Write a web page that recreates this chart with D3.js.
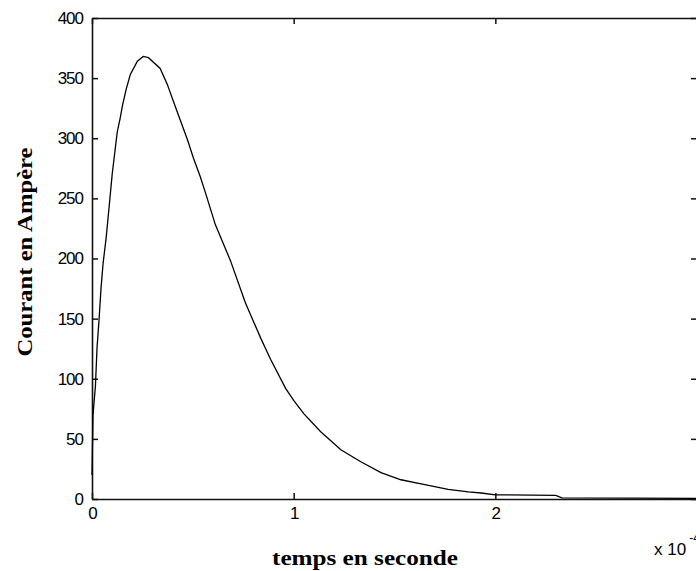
<!DOCTYPE html>
<html>
<head>
<meta charset="utf-8">
<script src="https://cdn.jsdelivr.net/npm/d3@7"></script>
<style>
  body { margin: 0; background: #fff; }
  svg { display: block; }
</style>
</head>
<body>
<svg id="chart"></svg>
<script>
// temps (x 10^-4 s) et courant (A)
const temps = [0, 0.005, 0.017, 0.025, 0.035, 0.045, 0.055, 0.07, 0.085, 0.1, 0.11, 0.125, 0.14, 0.152, 0.17, 0.19, 0.225, 0.254, 0.28, 0.338, 0.373, 0.403, 0.438, 0.473, 0.502, 0.537, 0.562, 0.612, 0.687, 0.761, 0.836, 0.886, 0.96, 1.0, 1.05, 1.134, 1.234, 1.333, 1.433, 1.532, 1.632, 1.766, 1.866, 1.93, 2.0, 2.3, 2.33, 3.0]
const courant = [20, 70, 94, 126, 149, 176, 196, 217, 243, 270, 284, 305, 317, 328, 341, 353, 364, 368, 367, 358, 345, 331, 315, 299, 284, 268, 255, 228, 198, 163, 134, 116, 92, 82, 71, 56, 41, 31, 22, 16, 12.5, 8, 6, 5, 3.5, 3, 1, 0.5]

const xTicks = [0, 1, 2, 3]
const yTicks = [0, 50, 100, 150, 200, 250, 300, 350, 400]

const width = 696, height = 571
const mLeft = 92, mRight = 697, mTop = 18, mBottom = 499

const svg = d3.select('#chart')
  .attr('width', width)
  .attr('height', height)

//scales
const xScale = d3.scaleLinear()
  .domain([0, 3])
  .range([mLeft, mRight])

const yScale = d3.scaleLinear()
  .domain([0, 400])
  .range([mBottom, mTop])

const tickFont = g => g
  .attr('font-family', '"Liberation Sans", Arial, sans-serif')
  .attr('font-size', 17)
  .attr('letter-spacing', '-1px')

const styleAxis = g => {
  g.selectAll('.domain').attr('stroke', '#111').attr('stroke-width', 1.6)
  g.selectAll('.tick line').attr('stroke', '#111').attr('stroke-width', 1.5)
  g.selectAll('.tick text').attr('fill', '#000')
}

// axes with inward ticks, box like matlab
svg.append('g')
  .attr('transform', `translate(0, ${mBottom})`)
  .call(d3.axisBottom(xScale).tickValues(xTicks).tickSize(-6).tickSizeOuter(0).tickPadding(8).tickFormat(d3.format('d')))
  .call(tickFont)
  .call(styleAxis)
  // last label sits on the edge, as in the figure
  .call(g => g.selectAll('.tick text').filter(d => d === 3).attr('dx', 3))

svg.append('g')
  .attr('transform', `translate(${mLeft}, 0)`)
  .call(d3.axisLeft(yScale).tickValues(yTicks).tickSize(-6).tickSizeOuter(0).tickPadding(9).tickFormat(d3.format('d')))
  .call(tickFont)
  .call(styleAxis)

svg.append('g')
  .attr('transform', `translate(0, ${mTop})`)
  .call(d3.axisTop(xScale).tickValues(xTicks).tickSize(-6).tickSizeOuter(0).tickFormat(''))
  .call(styleAxis)

svg.append('g')
  .attr('transform', `translate(${mRight}, 0)`)
  .call(d3.axisRight(yScale).tickValues(yTicks).tickSize(-6).tickSizeOuter(0).tickFormat(''))
  .call(styleAxis)

// courbe du courant
const line = d3.line()
  .x((d, i) => xScale(temps[i]))
  .y(d => yScale(d))

svg.append('path')
  .datum(courant)
  .attr('d', line)
  .attr('fill', 'none')
  .attr('stroke', '#000')
  .attr('stroke-width', 1.3)

// exponent label
const expo = svg.append('text')
  .attr('x', 654)
  .attr('y', 555)
  .attr('font-family', '"Liberation Sans", Arial, sans-serif')
  .attr('font-size', 17)
expo.append('tspan').text('x 10')
expo.append('tspan').attr('font-size', 12).attr('dx', 3).attr('dy', -13).text('-4')

// axis titles
svg.append('text')
  .attr('x', 365)
  .attr('y', 565)
  .attr('text-anchor', 'middle')
  .attr('font-family', '"Liberation Serif", "Times New Roman", serif')
  .attr('font-weight', 'bold')
  .attr('font-size', 20)
  .attr('textLength', 186)
  .attr('lengthAdjust', 'spacingAndGlyphs')
  .text('temps en seconde')

svg.append('text')
  .attr('transform', 'translate(32, 252) rotate(-90)')
  .attr('text-anchor', 'middle')
  .attr('font-family', '"Liberation Serif", "Times New Roman", serif')
  .attr('font-weight', 'bold')
  .attr('font-size', 20)
  .attr('textLength', 209)
  .attr('lengthAdjust', 'spacingAndGlyphs')
  .text('Courant en Ampère')
</script>
</body>
</html>
